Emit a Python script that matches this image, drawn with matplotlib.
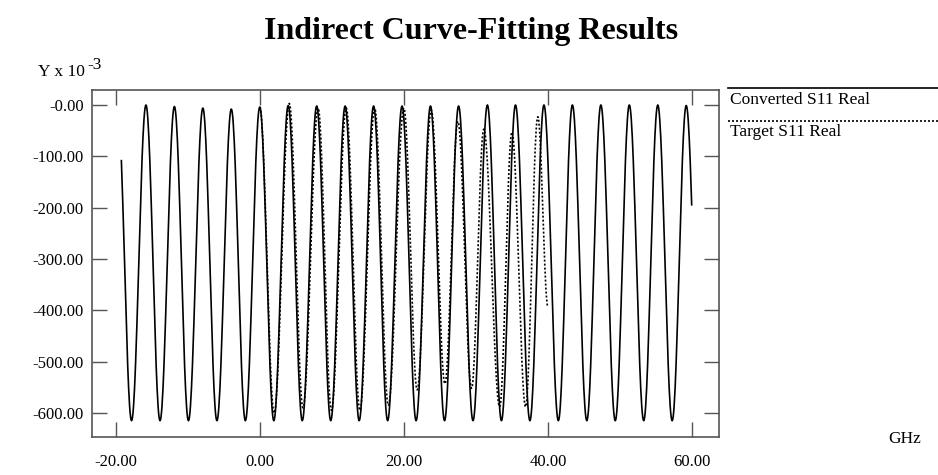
import numpy as np
import matplotlib
matplotlib.use('Agg')
import matplotlib.pyplot as plt

plt.rcParams['font.family'] = ['Liberation Serif', 'DejaVu Serif']

# extrema (GHz, Y x 1e-3)
conv_x = [-19.75, -17.8, -15.8, -13.85, -11.85, -9.9, -7.9, -5.95, -3.95, -2.0,
          0.0, 1.95, 3.95, 5.9, 7.9, 9.85, 11.85, 13.8, 15.8, 17.75,
          19.75, 21.7, 23.7, 25.65, 27.6, 29.6, 31.6, 33.55, 35.5, 37.5,
          39.45, 41.45, 43.4, 45.4, 47.35, 49.35, 51.3, 53.3, 55.25, 57.25,
          59.2, 61.2]
conv_y = [0, -615, 0, -615, -3, -615, -6, -615, -8, -615,
          -4, -615, -1, -615, -2, -615, -2, -615, -2, -615,
          -2, -615, -2, -615, -2, -615, 0, -615, 0, -615,
          0, -615, 0, -615, 0, -615, 0, -615, 0, -615,
          -1, -615]
conv_start, conv_end = -19.25, 60.0

targ_x = [0.0, 2.0, 4.1, 6.0, 8.1, 9.95, 12.0, 13.9, 15.95, 17.85,
          20.0, 21.85, 23.8, 25.7, 27.5, 29.4, 31.1, 33.3, 35.0, 36.9,
          38.6, 40.0]
targ_y = [-4, -600, 3, -590, -6, -595, -6, -595, -6, -585,
          -6, -555, -10, -543, -32, -552, -47, -588, -53, -588,
          -23, -393]

xticks = [-20, 0, 20, 40, 60]
xlabels = ['-20.00', '0.00', '20.00', '40.00', '60.00']
yticks = [-600, -500, -400, -300, -200, -100, 0]
ylabels = ['-600.00', '-500.00', '-400.00', '-300.00', '-200.00', '-100.00', '-0.00']


def smooth(ex_x, ex_y, x0, x1, n=30):
    xs, ys = [], []
    for i in range(len(ex_x) - 1):
        t = np.linspace(0, 1, n)
        xs.append(ex_x[i] + (ex_x[i + 1] - ex_x[i]) * t)
        ys.append(ex_y[i] + (ex_y[i + 1] - ex_y[i]) * (1 - np.cos(np.pi * t)) / 2)
    xs = np.concatenate(xs)
    ys = np.concatenate(ys)
    m = (xs >= x0) & (xs <= x1)
    return xs[m], ys[m]


W, H = 938, 475
fig = plt.figure(figsize=(W / 100, H / 100), dpi=100)
ax = fig.add_axes([92 / W, (H - 437) / H, (719 - 92) / W, (437 - 90) / H])

cx, cy = smooth(conv_x, conv_y, conv_start, conv_end)
tx, ty = smooth(targ_x, targ_y, targ_x[0], targ_x[-1])
ax.plot(cx, cy, color='black', lw=1.2, solid_joinstyle='round')
ax.plot(tx, ty, color='black', lw=1.2, linestyle=(0, (1.2, 1.2)))

ax.set_xlim(-23.29, 63.75)
ax.set_ylim(-646.8, 29.2)
ax.set_xticks(xticks)
ax.set_xticklabels(xlabels)
ax.set_yticks(yticks)
ax.set_yticklabels(ylabels)
for s in ax.spines.values():
    s.set_color('#555555')
    s.set_linewidth(1.2)
ax.tick_params(axis='both', direction='in', top=True, right=True, length=11,
               width=1.0, color='#555555', labelsize=12)
ax.tick_params(axis='x', pad=12)
ax.tick_params(axis='y', pad=6)

fig.text(471 / W, 1 - 32 / H, 'Indirect Curve-Fitting Results', ha='center',
         va='center', fontsize=23, fontweight='bold')
fig.text(38 / W, 1 - 76 / H, 'Y x 10', ha='left', va='baseline', fontsize=12.5)
fig.text(87 / W, 1 - 69 / H, '-3', ha='left', va='baseline', fontsize=12.5)
fig.text(888 / W, 1 - 439 / H, 'GHz', ha='left', va='center', fontsize=12.5)

# legend outside the axes
fig.add_artist(plt.Line2D([728 / W, 1.0], [1 - 88 / H, 1 - 88 / H],
                          color='black', lw=1.2, transform=fig.transFigure))
fig.text(730 / W, 1 - 100 / H, 'Converted S11 Real', ha='left', va='center',
         fontsize=12.5)
fig.add_artist(plt.Line2D([728 / W, 1.0], [1 - 121 / H, 1 - 121 / H],
                          color='black', lw=1.2, linestyle=(0, (1.2, 1.2)),
                          transform=fig.transFigure))
fig.text(730 / W, 1 - 132 / H, 'Target S11 Real', ha='left', va='center',
         fontsize=12.5)

fig.savefig('out.png', dpi=100)
